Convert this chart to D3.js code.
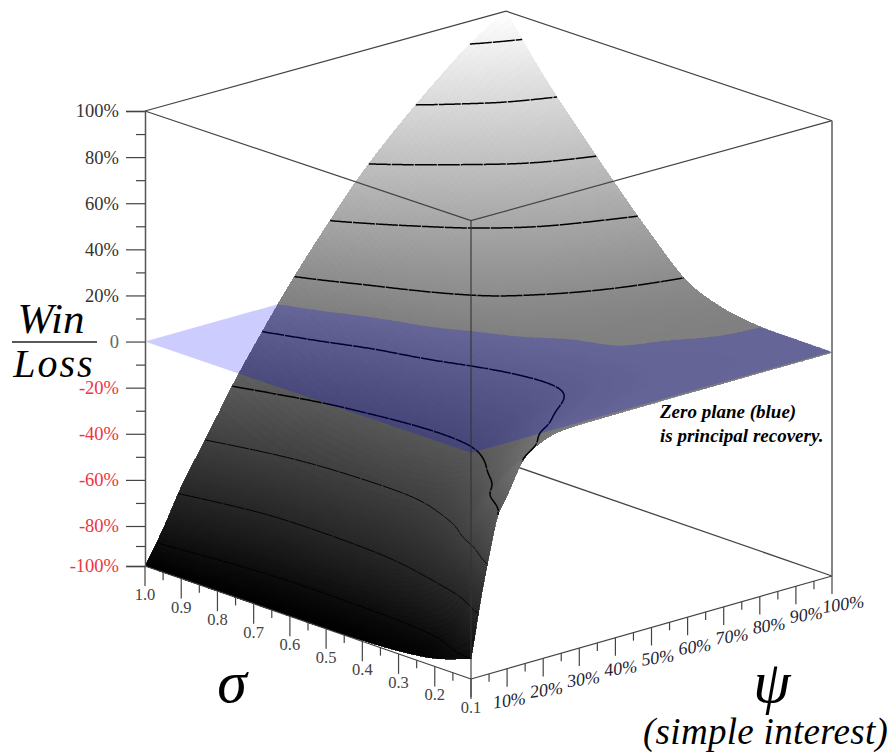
<!DOCTYPE html>
<html>
<head>
<meta charset="utf-8">
<script src="https://cdn.jsdelivr.net/npm/d3@7"></script>
<style>
  html, body { margin: 0; padding: 0; background: #fff; }
  svg { display: block; }
  text { font-family: "Liberation Serif", serif; }
</style>
</head>
<body>
<svg id="chart" width="894" height="756"></svg>
<script>
// values
const sigmas = [1.0, 0.9, 0.8, 0.7, 0.6, 0.5, 0.4, 0.3, 0.2, 0.1];
const psis = [0, 2.5, 5, 7.5, 10, 15, 20, 25, 30, 40, 50, 60, 70, 80, 90, 100];
const winLoss = [
  [-100, -92.4, -84, -75.5, -67.6, -54.3, -41, -27.8, -15.8, 7, 27.5, 46.6, 62.6, 77, 90, 100],
  [-100, -94.4, -88.6, -81.4, -74.3, -61, -48.7, -36.2, -24.7, -2.5, 15, 31.4, 45.7, 58.2, 70, 78],
  [-100, -95.6, -91.2, -85.3, -78.8, -66.1, -54, -42.7, -31.8, -12, 6, 19.3, 32, 42.8, 52.2, 59],
  [-100, -96.3, -92.5, -87.7, -80.8, -67.3, -56.2, -45.5, -35.2, -18, -0.5, 10.3, 19, 27.8, 34.7, 41],
  [-100, -96.3, -92.6, -88, -79.3, -67.3, -56.7, -46.6, -37.2, -21.8, -8, 3.2, 8.4, 13.6, 18.8, 24],
  [-100, -96.3, -92.5, -87.5, -79.5, -66, -56, -46.5, -37.3, -23.3, -12.2, -2, 2, 4.4, 6.7, 9],
  [-99.5, -96.2, -92.3, -86, -76, -62.2, -51, -42, -33, -21.8, -12.5, -5.3, 0.2, 0.9, 1.7, 2.5],
  [-98.5, -95.6, -91.2, -80, -68, -53, -40.6, -29.4, -23, -12.3, -8, -4.5, -1.6, -0.6, -0.1, 0.05],
  [-96, -92.2, -82, -65, -52.5, -30, -22.3, -14.6, -9, -5.5, -3.5, -2.2, -1.4, -0.9, -0.6, -0.3],
  [-90, -66, -46.7, -30, -22.8, -8.5, -3, -1.3, -1, -0.8, -0.7, -0.6, -0.6, -0.5, -0.5, -0.5]
];
const contourLevels = [-90, -70, -50, -30, -10, 10, 30, 50, 70, 90];
const zTicks = [-100, -80, -60, -40, -20, 0, 20, 40, 60, 80, 100];
const zMinorTicks = [-90, -70, -50, -30, -10, 10, 30, 50, 70, 90];
const sigmaTicks = [1.0, 0.9, 0.8, 0.7, 0.6, 0.5, 0.4, 0.3, 0.2, 0.1];
const sigmaMinorTicks = [0.95, 0.85, 0.75, 0.65, 0.55, 0.45, 0.35, 0.25, 0.15];
const psiTicks = [10, 20, 30, 40, 50, 60, 70, 80, 90, 100];
const psiMinorTicks = [5, 15, 25, 35, 45, 55, 65, 75, 85, 95];

const svg = d3.select("#chart");
const axisColor = "#444";

// nearly orthographic box: each axis adds a screen offset, a bit less at the top
const sigmaX = d3.scaleLinear().domain([1, 0.1]).range([0, 326]);
const sigmaY = d3.scaleLinear().domain([1, 0.1]).range([0, 113]);
const psiX = d3.scaleLinear().domain([0, 100]).range([0, 361]);
const psiY = d3.scaleLinear().domain([0, 100]).range([0, -103]);
const zY = d3.scaleLinear().domain([-100, -80, 100]).range([566, 526, 111]);
const squeeze = d3.scaleLinear().domain([-100, 100]).range([1, 0.97]);
const grey = d3.scaleLinear().domain([-100, 100]).range(["#000", "#fff"]);

function project(sigma, psi, z) {
  return [145 + sigmaX(sigma) + psiX(psi), zY(z) + (sigmaY(sigma) + psiY(psi)) * squeeze(z)];
}

// cubic through (xs, ys), just to render the surface smoothly
function monotoneSlopes(xs, ys) {
  const d = [];
  for (let i = 0; i < xs.length - 1; i++) d.push((ys[i + 1] - ys[i]) / (xs[i + 1] - xs[i]));
  const m = [d[0]];
  for (let i = 1; i < d.length; i++) m.push(d[i - 1] * d[i] <= 0 ? 0 : 2 * d[i - 1] * d[i] / (d[i - 1] + d[i]));
  m.push(d[d.length - 1]);
  return m;
}
function centralSlopes(xs, ys) {
  return xs.map((x, i) => {
    const a = Math.max(i - 1, 0), b = Math.min(i + 1, xs.length - 1);
    return (ys[b] - ys[a]) / (xs[b] - xs[a]);
  });
}
function hermite(xs, ys, m, x) {
  let i = Math.min(d3.bisectRight(xs, x) - 1, xs.length - 2);
  i = Math.max(i, 0);
  const h = xs[i + 1] - xs[i], u = (x - xs[i]) / h;
  return (2 * u * u * u - 3 * u * u + 1) * ys[i] + (u * u * u - 2 * u * u + u) * h * m[i]
    + (-2 * u * u * u + 3 * u * u) * ys[i + 1] + (u * u * u - u * u) * h * m[i + 1];
}
const rowSlopes = winLoss.map(row => monotoneSlopes(psis, row));
const sigmaAsc = sigmas.map(s => -s); // bisect needs ascending keys

function sampleGrid(sigmaList, psiList) {
  // every psi column first, then along sigma
  return psiList.map(psi => {
    const col = winLoss.map((row, i) => hermite(psis, row, rowSlopes[i], psi));
    const m = centralSlopes(sigmaAsc, col);
    return sigmaList.map(s => hermite(sigmaAsc, col, m, -s));
  });
}

// render mesh
const meshSigma = d3.range(0, 91).map(i => 1 - i / 100);
const meshPsi = d3.range(0, 20, 0.5).concat(d3.range(20, 100.5, 1));
const meshZ = sampleGrid(meshSigma, meshPsi);
const cells = [];
for (let j = meshPsi.length - 2; j >= 0; j--) {
  for (let i = 0; i < meshSigma.length - 1; i++) {
    const corners = [[i, j], [i + 1, j], [i + 1, j + 1], [i, j + 1]];
    const pts = corners.map(c => project(meshSigma[c[0]], meshPsi[c[1]], meshZ[c[1]][c[0]]));
    cells.push({ pts, z: d3.mean(corners, c => meshZ[c[1]][c[0]]) });
  }
}

// contour grid
const nx = 401, ny = 181;
const fineSigma = d3.range(0, ny).map(i => 1 - i * 0.005);
const finePsi = d3.range(0, nx).map(i => i * 0.25);
const fineZ = sampleGrid(fineSigma, finePsi);
const values = new Float64Array(nx * ny);
for (let y = 0; y < ny; y++) for (let x = 0; x < nx; x++) values[y * nx + x] = fineZ[x][y];

const cx = d3.scaleLinear().domain([0, nx - 1]).range([0, 100]).clamp(true);
const cy = d3.scaleLinear().domain([0, ny - 1]).range([1, 0.1]).clamp(true);
const contourGen = d3.contours().size([nx, ny]);

function toScreen(p, level) {
  return project(cy(p[1] - 0.5), cx(p[0] - 0.5), level);
}
const lineGen = d3.line().curve(d3.curveLinear);

// moving average, takes out the small kinks left by the coarse data grid
function smoothLine(pts, k) {
  return pts.map((p, i) => {
    const w = Math.min(k, i, pts.length - 1 - i);
    const part = pts.slice(i - w, i + w + 1);
    return [d3.mean(part, q => q[0]), d3.mean(part, q => q[1])];
  });
}

// splits the closed rings where they run along the grid border
function contourPaths(level) {
  const out = [];
  contourGen.contour(values, level).coordinates.forEach(poly => poly.forEach(ring => {
    let cur = [];
    const onBorder = p => p[0] <= 0 || p[0] >= nx || p[1] <= 0 || p[1] >= ny;
    let start = ring.findIndex(onBorder);
    if (start < 0) start = 0;
    for (let k = 0; k < ring.length; k++) {
      const p = ring[(start + k) % ring.length];
      if (onBorder(p)) {
        if (cur.length > 1) out.push(cur);
        cur = [];
      } else {
        cur.push(toScreen(p, level));
      }
    }
    if (cur.length > 1) out.push(cur);
  }));
  return out.map(line => smoothLine(line, 14));
}

function drawContours(g, levels) {
  levels.forEach(level => {
    g.selectAll(null)
      .data(contourPaths(level))
      .enter().append("path")
      .attr("d", d => lineGen(d))
      .attr("fill", "none")
      .attr("stroke", "#000")
      .attr("stroke-width", Math.abs(level) >= 50 && level < 0 ? 1 : 1.5)
      .attr("stroke-dasharray", "22 1");
  });
}

function boxLine(a, b, width, color) {
  const p = project(a[0], a[1], a[2]), q = project(b[0], b[1], b[2]);
  svg.append("line")
    .attr("x1", p[0]).attr("y1", p[1]).attr("x2", q[0]).attr("y2", q[1])
    .attr("stroke", color || axisColor).attr("stroke-width", width || 1);
}

// floor edges at the back go under everything
boxLine([0.1, 100, -100], [1, 100, -100], 1.3);
boxLine([1, 0, -100], [1, 100, -100], 1);

// whole surface first
const defs = svg.append("defs");
const mesh = defs.append("g").attr("id", "surface-mesh").attr("shape-rendering", "crispEdges");
mesh.selectAll("path")
  .data(cells)
  .enter().append("path")
  .attr("d", d => lineGen(d.pts) + "Z")
  .attr("fill", d => grey(d.z))
  .attr("stroke", d => grey(d.z))
  .attr("stroke-width", 0.8);

svg.append("use").attr("href", "#surface-mesh");
drawContours(svg.append("g"), contourLevels.filter(l => l < 0));

// zero plane
const plane = [[1, 0], [0.1, 0], [0.1, 100], [1, 100]].map(c => project(c[0], c[1], 0));
svg.append("path")
  .attr("d", lineGen(plane) + "Z")
  .attr("fill", "#0000ff")
  .attr("fill-opacity", 0.2);

// the part of the surface above zero comes back over the plane:
// clip to the screen area above the zero contour
let zeroLine = contourPaths(0).sort((a, b) => b.length - a.length)[0];
if (zeroLine[0][0] > zeroLine[zeroLine.length - 1][0]) zeroLine = zeroLine.reverse();
const zeroEnd = zeroLine[zeroLine.length - 1];
const zeroRegion = zeroLine.concat([[894, zeroEnd[1]], [894, 0], [0, 0], [0, zeroLine[0][1]]]);
defs.append("clipPath").attr("id", "above-zero")
  .append("path").attr("d", lineGen(zeroRegion) + "Z");
svg.append("use").attr("href", "#surface-mesh").attr("clip-path", "url(#above-zero)");
drawContours(svg.append("g"), contourLevels.filter(l => l > 0));

// box
boxLine([1, 0, 100], [1, 100, 100], 1.2);
boxLine([1, 100, 100], [0.1, 100, 100], 1.2);
boxLine([1, 0, 100], [0.1, 0, 100], 1.2);
boxLine([0.1, 0, 100], [0.1, 100, 100], 1.2);
boxLine([0.1, 0, 100], [0.1, 0, -100], 1.1, "#333");
boxLine([0.1, 100, 100], [0.1, 100, -100], 1.8, "#777");
boxLine([1, 0, -100], [0.1, 0, -100], 1.2);
boxLine([0.1, 0, -100], [0.1, 100, -100], 1.2);

// z axis
const zAxis = svg.append("g")
  .attr("transform", "translate(145,0)")
  .call(d3.axisLeft(zY).tickValues(zTicks).tickSize(19).tickPadding(7)
    .tickFormat(d => d === 0 ? "0" : d + "%"));
zAxis.select(".domain").attr("stroke", "#555").attr("stroke-width", 1.5);
zAxis.selectAll(".tick line").attr("stroke", "#444").attr("stroke-width", 1.2);
zAxis.selectAll(".tick text")
  .attr("font-family", "Liberation Serif")
  .attr("font-size", 18.5)
  .attr("fill", d => d < 0 ? "#ee3344" : d === 0 ? "#666" : "#333");
const zMinor = svg.append("g")
  .attr("transform", "translate(145,0)")
  .call(d3.axisLeft(zY).tickValues(zMinorTicks).tickSize(9).tickFormat(""));
zMinor.select(".domain").remove();
zMinor.selectAll(".tick line").attr("stroke", "#444").attr("stroke-width", 1.2);

// floor axes, ticks hang straight down
function floorTicks(data, pos, len, width) {
  svg.append("g").selectAll("line")
    .data(data)
    .enter().append("line")
    .attr("x1", d => pos(d)[0]).attr("x2", d => pos(d)[0])
    .attr("y1", d => pos(d)[1]).attr("y2", d => pos(d)[1] + len)
    .attr("stroke", "#444").attr("stroke-width", width);
}
const sigmaPos = s => project(s, 0, -100);
const psiPos = p => project(0.1, p, -100);
floorTicks(sigmaTicks, sigmaPos, 20, 1.2);
floorTicks(sigmaMinorTicks, sigmaPos, 8, 1.2);
floorTicks([0].concat(psiTicks), psiPos, 18, 1.2);
floorTicks(psiMinorTicks, psiPos, 8, 1.2);

svg.append("g").selectAll("text")
  .data(sigmaTicks)
  .enter().append("text")
  .attr("x", d => sigmaPos(d)[0])
  .attr("y", d => sigmaPos(d)[1] + 34)
  .attr("text-anchor", "middle")
  .attr("font-size", 16.5)
  .attr("fill", "#444")
  .text(d3.format(".1f"));

svg.append("g").selectAll("text")
  .data(psiTicks)
  .enter().append("text")
  .attr("transform", d => {
    const p = psiPos(d);
    return `translate(${p[0] + 2 + d * 0.1},${p[1] + 38 - d * 0.04}) rotate(-8)`;
  })
  .attr("text-anchor", "middle")
  .attr("font-size", 18)
  .attr("font-style", "italic")
  .attr("fill", "#223")
  .text(d => d + "%");

// titles
function label(x, y, size, str, weight, anchor, spacing) {
  svg.append("text")
    .attr("x", x).attr("y", y)
    .attr("font-size", size)
    .attr("font-style", "italic")
    .attr("font-weight", weight || "normal")
    .attr("text-anchor", anchor || "start")
    .attr("letter-spacing", spacing || 0)
    .attr("fill", "#000")
    .text(str);
}
label(51, 333, 43, "Win", null, "middle");
label(54, 377, 40, "Loss", null, "middle", 2);
svg.append("line").attr("x1", 12).attr("x2", 97).attr("y1", 342).attr("y2", 342)
  .attr("stroke", "#222").attr("stroke-width", 1.3);
label(232, 702, 60, "σ", null, "middle");
label(772, 702, 60, "ψ", null, "middle");
label(643, 744, 37, "(simple interest)", null, null, 0.3);
label(660, 418, 19, "Zero plane (blue)", "bold");
label(660, 442, 19, "is principal recovery.", "bold");
</script>
</body>
</html>
